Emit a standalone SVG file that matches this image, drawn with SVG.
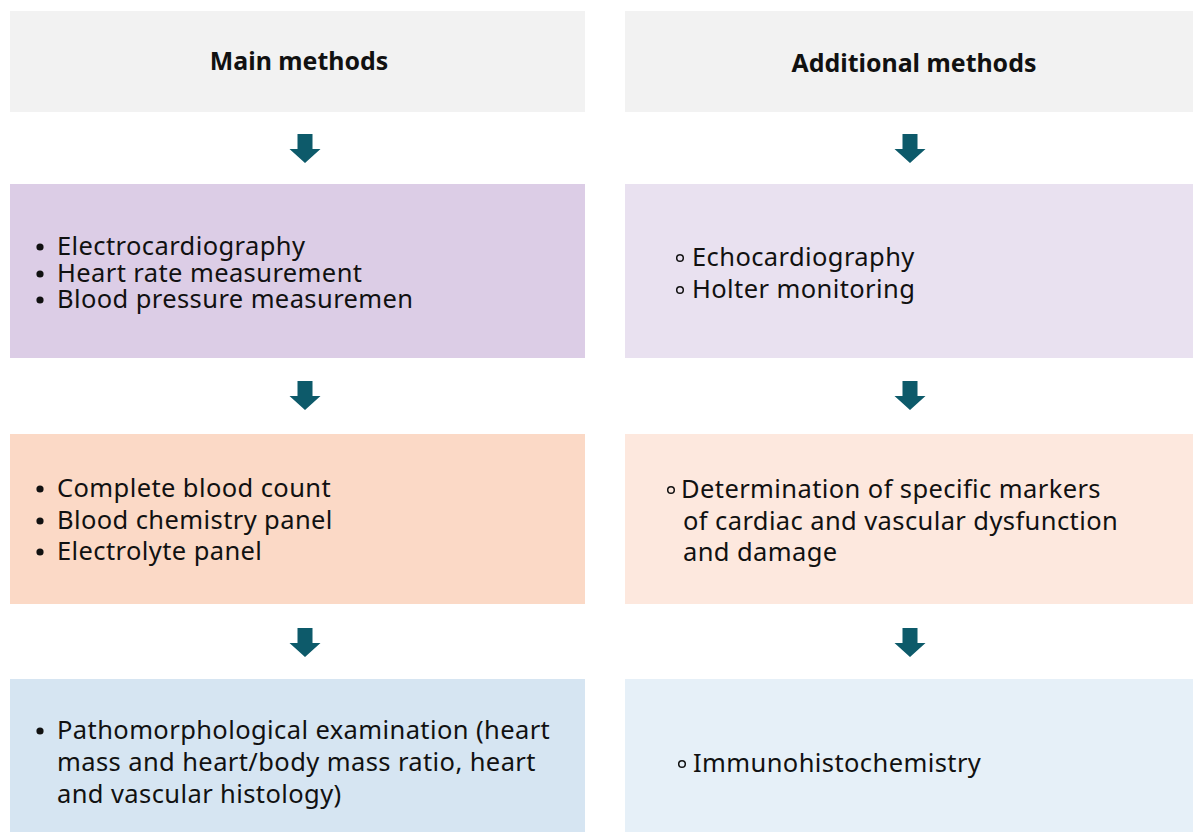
<svg xmlns="http://www.w3.org/2000/svg" width="1193" height="832" viewBox="0 0 1193 832">
<style>
.t{font-family:"Noto Sans","Open Sans",sans-serif;font-size:25.5px;letter-spacing:0.4px;fill:#111}
.h{font-family:"Noto Sans","Open Sans",sans-serif;font-size:24.9px;font-weight:bold;fill:#111;text-anchor:middle}
.dot{fill:#111}
.ring{fill:none;stroke:#111;stroke-width:1.5}
.arr{fill:#0d5a6a}
</style>
<defs>
<path id="arrow" d="M-7.5,0 H7.5 V15 H15.5 L0,29 L-15.5,15 H-7.5 Z"/>
</defs>
<rect width="1193" height="832" fill="#ffffff"/>
<g id="main-header"><rect x="10" y="11" width="575" height="101" fill="#f2f2f2"/><text class="h" x="299" y="70">Main methods</text></g>
<g id="additional-header"><rect x="625" y="11" width="568" height="101" fill="#f2f2f2"/><text class="h" x="914" y="72">Additional methods</text></g>
<g id="main-1"><rect x="10" y="184" width="575" height="174" fill="#dccde6"/>
<circle class="dot" cx="40" cy="247" r="3.6"/><circle class="dot" cx="40" cy="274" r="3.6"/><circle class="dot" cx="40" cy="300" r="3.6"/>
<text class="t" x="57" y="255">Electrocardiography</text><text class="t" x="57" y="282">Heart rate measurement</text><text class="t" x="57" y="308">Blood pressure measuremen</text></g>
<g id="additional-1"><rect x="625" y="184" width="568" height="174" fill="#e9e1f0"/>
<circle class="ring" cx="680" cy="258" r="3.3"/><circle class="ring" cx="680" cy="290" r="3.3"/>
<text class="t" x="692" y="266">Echocardiography</text><text class="t" x="692" y="298">Holter monitoring</text></g>
<g id="main-2"><rect x="10" y="434" width="575" height="170" fill="#fbd9c6"/>
<circle class="dot" cx="40" cy="489" r="3.6"/><circle class="dot" cx="40" cy="521" r="3.6"/><circle class="dot" cx="40" cy="552" r="3.6"/>
<text class="t" x="57" y="497">Complete blood count</text><text class="t" x="57" y="529">Blood chemistry panel</text><text class="t" x="57" y="560">Electrolyte panel</text></g>
<g id="additional-2"><rect x="625" y="434" width="568" height="170" fill="#fde8de"/>
<circle class="ring" cx="671" cy="490" r="3.3"/>
<text class="t" x="681" y="498">Determination of specific markers</text><text class="t" x="683" y="530">of cardiac and vascular dysfunction</text><text class="t" x="683" y="561">and damage</text></g>
<g id="main-3"><rect x="10" y="679" width="575" height="153" fill="#d6e5f2"/>
<circle class="dot" cx="40" cy="731" r="3.6"/>
<text class="t" x="57" y="739">Pathomorphological examination (heart</text><text class="t" x="57" y="771">mass and heart/body mass ratio, heart</text><text class="t" x="57" y="803">and vascular histology)</text></g>
<g id="additional-3"><rect x="625" y="679" width="568" height="153" fill="#e6f0f8"/>
<circle class="ring" cx="682" cy="764" r="3.3"/>
<text class="t" x="693" y="772">Immunohistochemistry</text></g>
<g id="connectors" class="arr">
<use href="#arrow" x="305" y="134"/><use href="#arrow" x="910" y="134"/>
<use href="#arrow" x="305" y="381"/><use href="#arrow" x="910" y="381"/>
<use href="#arrow" x="305" y="628"/><use href="#arrow" x="910" y="628"/>
</g>
</svg>
